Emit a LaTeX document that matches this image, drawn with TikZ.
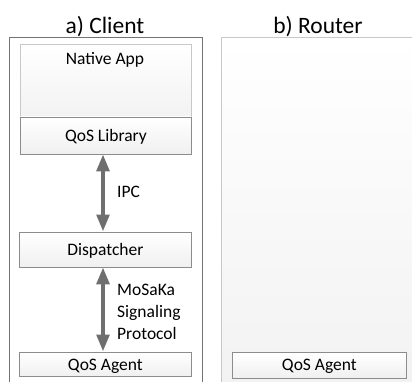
\documentclass[tikz,border=0pt]{standalone}
\usepackage{fontspec}
\setmainfont{Carlito}
\usetikzlibrary{arrows.meta}
\definecolor{arrowgray}{HTML}{6F6F6F}
\definecolor{boxline}{HTML}{8C8C8C}
\definecolor{lightline}{HTML}{C8C8C8}
\begin{document}
\begin{tikzpicture}[x=1pt,y=-1pt,
  comp/.style={draw=boxline, line width=0.8pt, top color=white, bottom color=black!6, inner sep=0pt},
  ctext/.style={font=\fontsize{17.5}{20}\selectfont, inner sep=0pt, anchor=base},
  title/.style={font=\fontsize{23.5}{26}\selectfont, inner sep=0pt, anchor=base},
  lbl/.style={font=\fontsize{17.5}{22}\selectfont, inner sep=0pt, anchor=base west, align=left},
  biarrow/.style={draw=arrowgray, line width=4pt, {Triangle[width=12.5pt,length=17pt]}-{Triangle[width=12.5pt,length=17pt]}, shorten <=-0.5pt, shorten >=0.5pt}]
\useasboundingbox (0,0) rectangle (412,381);
% titles
\node[title] (tc) at (105,33) {a) Client};
\node[title] (tr) at (318,33) {b) Router};
% outer boxes
\draw[draw=black!55, line width=0.8pt, fill=white] (9,383) -- (9,37.5) -- (202.5,37.5) -- (202.5,383);
\shade[top color=white, bottom color=black!5] (221,37.5) rectangle (414,383);
\draw[draw=lightline, line width=0.8pt] (221,383) -- (221,37.5) -- (414,37.5);
% native app
\node[draw=lightline, line width=0.8pt, top color=white, bottom color=black!5, minimum width=171pt, minimum height=73pt, anchor=north west, inner sep=0pt] (app) at (20,43.5) {};
\node[ctext] (apptxt) at (105,64.5) {Native App};
\node[comp, minimum width=171pt, minimum height=37.5pt, anchor=north west] (lib) at (20,116.5) {};
\node[ctext] (libtxt) at (lib.center |- 0,141.5) {QoS Library};
\node[comp, minimum width=172pt, minimum height=35pt, anchor=north west] (disp) at (19,232) {};
\node[ctext] (disptxt) at (disp.center |- 0,255) {Dispatcher};
\node[comp, minimum width=172pt, minimum height=24pt, anchor=north west] (agc) at (19,352) {};
\node[ctext] (agctxt) at (agc.center |- 0,370) {QoS Agent};
\node[comp, minimum width=174pt, minimum height=26pt, anchor=north west] (agr) at (232,352) {};
\node[ctext] (agrtxt) at (agr.center |- 0,370) {QoS Agent};
% arrows
\coordinate (ax) at (103,0);
\draw[biarrow] (lib.south -| ax) -- (disp.north -| ax);
\draw[biarrow] (disp.south -| ax) -- (agc.north -| ax);
\node[lbl] (ipc) at (117,197) {IPC};
\node[lbl] (mos) at (117,339) {MoSaKa\\Signaling\\Protocol};
\end{tikzpicture}
\end{document}
